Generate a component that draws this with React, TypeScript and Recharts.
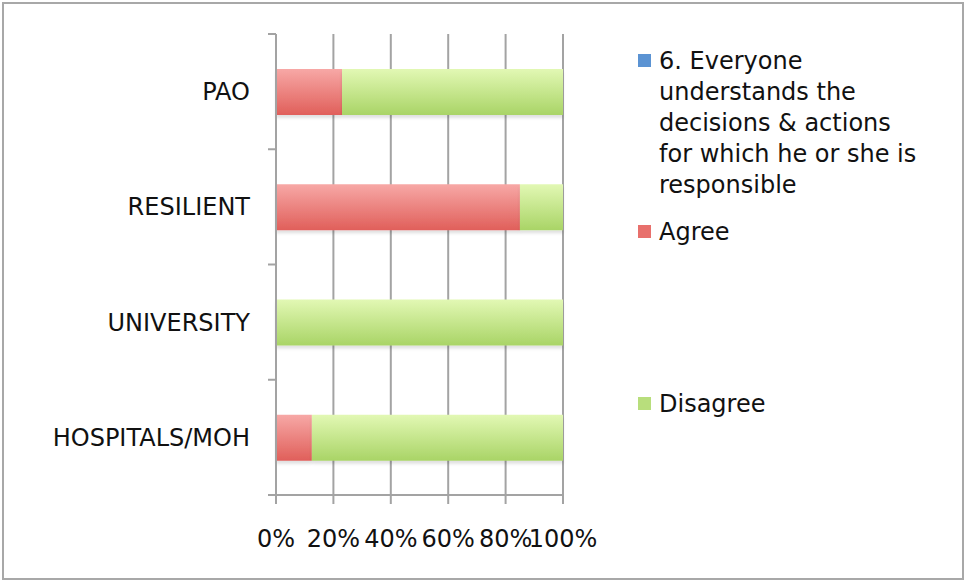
import React from 'react';
import { BarChart, Bar, XAxis, YAxis, CartesianGrid, Legend } from 'recharts';

const categories = ['PAO', 'RESILIENT', 'UNIVERSITY', 'HOSPITALS/MOH'];
const questionValues = [0, 0, 0, 0];
const agreeValues = [23, 85, 0, 12.5];
const disagreeValues = [77, 15, 100, 87.5];
const percentTicks = [0, 20, 40, 60, 80, 100];

const QUESTION = '6. Everyone understands the decisions & actions for which he or she is responsible';

const data = categories.map((name, i) => ({
  name,
  question: questionValues[i],
  agree: agreeValues[i],
  disagree: disagreeValues[i],
}));

const FONT = '"DejaVu Sans", sans-serif';
const AXIS_GRAY = '#a3a3a3';
const LABEL_GAP = 26;

const swatch: Record<string, string> = {
  [QUESTION]: '#5b93d3',
  Agree: '#e8706c',
  Disagree: '#b8de7c',
};

// category label plus a tick mark at the band edges instead of the band centre
function CategoryTick(props: any) {
  const { x, y, payload, index, visibleTicksCount } = props;
  const axisX = x + LABEL_GAP;
  const half = payload.offset ?? 0;
  return (
    <g>
      <line x1={axisX - 8} x2={axisX} y1={y - half} y2={y - half} stroke={AXIS_GRAY} strokeWidth={2} />
      {index === visibleTicksCount - 1 && (
        <line x1={axisX - 8} x2={axisX} y1={y + half} y2={y + half} stroke={AXIS_GRAY} strokeWidth={2} />
      )}
      <text x={x} y={y} dy="0.355em" textAnchor="end" fontSize={24} fontFamily={FONT} fill="#111">
        {payload.value}
      </text>
    </g>
  );
}

// legend entries with uneven gaps between them
function SideLegend({ payload }: any) {
  const gaps = [0, 16, 141];
  return (
    <div style={{ fontFamily: FONT, fontSize: 24, lineHeight: '31px', color: '#111', textAlign: 'left' }}>
      {(payload || []).map((entry: any, i: number) => (
        <div key={entry.value} style={{ display: 'flex', marginTop: gaps[i] }}>
          <div
            style={{
              width: 13,
              height: 13,
              marginTop: 8,
              marginRight: 8,
              flexShrink: 0,
              background: swatch[entry.value],
            }}
          />
          <div style={{ width: 270 }}>{entry.value}</div>
        </div>
      ))}
    </div>
  );
}

export default function App() {
  return (
    <div style={{ position: 'absolute', left: 0, top: 0, width: 965, height: 581, background: '#fff' }}>
      <div
        style={{
          position: 'absolute',
          left: 2,
          top: 2,
          width: 962,
          height: 578,
          border: '2px solid #a8a8a8',
          boxSizing: 'border-box',
        }}
      />
      <div style={{ position: 'absolute', left: 0, top: 0 }}>
        <BarChart
          width={965}
          height={581}
          data={data}
          layout="vertical"
          margin={{ top: 34, right: 402, bottom: 0, left: 0 }}
        >
          <defs>
            <linearGradient id="agreeFill" x1="0" y1="0" x2="0" y2="1">
              <stop offset="0%" stopColor="#f7a8a6" />
              <stop offset="100%" stopColor="#e05f5a" />
            </linearGradient>
            <linearGradient id="disagreeFill" x1="0" y1="0" x2="0" y2="1">
              <stop offset="0%" stopColor="#e2f8b4" />
              <stop offset="100%" stopColor="#a9d466" />
            </linearGradient>
            <linearGradient id="questionFill" x1="0" y1="0" x2="0" y2="1">
              <stop offset="0%" stopColor="#8ab8ea" />
              <stop offset="100%" stopColor="#4f86c6" />
            </linearGradient>
            <filter id="barShadow" x="-5%" y="-20%" width="110%" height="150%">
              <feDropShadow dx="0" dy="3" stdDeviation="1.5" floodColor="#000" floodOpacity="0.12" />
            </filter>
          </defs>
          <CartesianGrid horizontal={false} stroke={AXIS_GRAY} strokeWidth={2} />
          <XAxis
            type="number"
            domain={[0, 100]}
            ticks={percentTicks}
            tickFormatter={(v) => `${v}%`}
            interval={0}
            height={86}
            stroke={AXIS_GRAY}
            strokeWidth={2}
            tickSize={9}
            tickMargin={26}
            tick={{ fontSize: 24, fontFamily: FONT, fill: '#111' }}
          />
          <YAxis
            type="category"
            dataKey="name"
            width={276}
            stroke={AXIS_GRAY}
            strokeWidth={2}
            tickLine={false}
            tickSize={6}
            tickMargin={20}
            tick={<CategoryTick />}
          />
          <Legend
            layout="vertical"
            verticalAlign="middle"
            align="center"
            wrapperStyle={{ left: 638, top: 46, width: 320 }}
            content={<SideLegend />}
          />
          <Bar dataKey="question" name={QUESTION} stackId="s" fill="url(#questionFill)" barSize={46} isAnimationActive={false} />
          <Bar dataKey="agree" name="Agree" stackId="s" fill="url(#agreeFill)" filter="url(#barShadow)" barSize={46} isAnimationActive={false} />
          <Bar dataKey="disagree" name="Disagree" stackId="s" fill="url(#disagreeFill)" filter="url(#barShadow)" barSize={46} isAnimationActive={false} />
        </BarChart>
      </div>
    </div>
  );
}
